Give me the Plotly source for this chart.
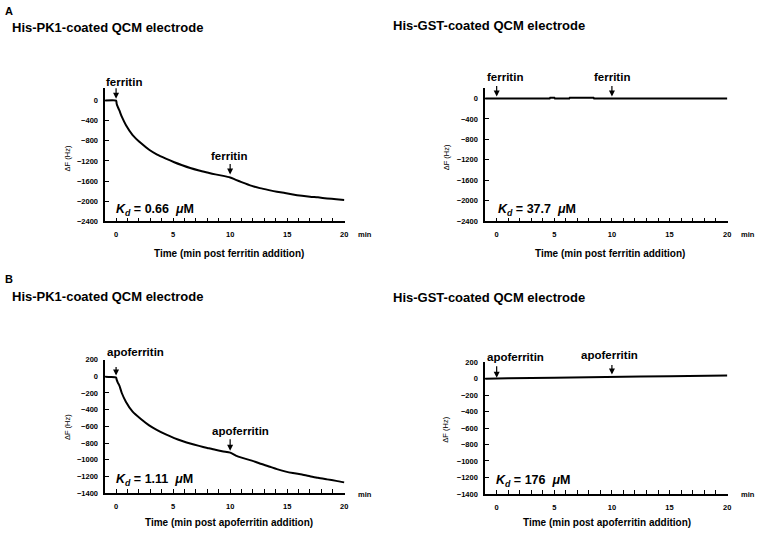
import plotly.graph_objects as go

W, H = 760, 535
FONT = "Liberation Sans, Arial, sans-serif"

# ---- data ----
t_pk1_ferritin = [-1, 0, 0.05, 0.15, 0.29, 0.5, 0.87, 1.45, 2.2, 2.9, 3.6, 4.36, 5.1, 5.8, 6.5,
                  7.27, 8, 8.7, 9.4, 10, 10.5, 11, 11.9, 12.6, 13.4, 14.1, 14.8, 15.5, 16.3,
                  17, 17.7, 18.5, 19.3, 20]
df_pk1_ferritin = [0, 0, -60, -125, -196, -320, -489, -685, -850, -978, -1075, -1154, -1225,
                   -1285, -1340, -1389, -1430, -1467, -1497, -1530, -1575, -1620, -1695, -1740,
                   -1780, -1812, -1838, -1865, -1891, -1910, -1924, -1945, -1962, -1975]

t_gst_ferritin = [-1, 0, 4.6, 4.65, 5.0, 5.05, 6.3, 6.35, 8.4, 8.45, 10, 15, 20]
df_gst_ferritin = [0, 0, 0, 15, 15, 0, 0, 15, 15, 0, 0, 0, 0]

t_pk1_apo = [-1, -0.5, 0, 0.05, 0.15, 0.29, 0.5, 0.87, 1.45, 2.2, 2.9, 3.6, 4.36, 5.1, 5.8, 6.5,
             7.27, 8, 8.7, 9.4, 10, 10.5, 11, 11.9, 12.6, 13.4, 14.1, 14.8, 15.5, 16.3, 17,
             17.7, 18.5, 19.3, 20]
df_pk1_apo = [-5, -8, -15, -40, -75, -112, -200, -307, -424, -515, -588, -645, -697, -740, -775,
              -806, -834, -858, -881, -900, -915, -950, -975, -1010, -1045, -1080, -1112, -1139,
              -1160, -1177, -1197, -1217, -1235, -1253, -1271]

t_gst_apo = [-1, 0, 0.5, 1, 5, 7.5, 10, 12.5, 15, 18, 20]
df_gst_apo = [0, 0, -3, 5, 10, 18, 25, 27, 30, 35, 37]

x_major = [0, 5, 10, 15, 20]
y_ticks_ferritin = [0, -400, -800, -1200, -1600, -2000, -2400]
y_ticks_apo = [200, 0, -200, -400, -600, -800, -1000, -1200, -1400]

panels = [
    dict(t=t_pk1_ferritin, v=df_pk1_ferritin, label="ferritin", kd="0.66",
         title="His-PK1-coated QCM electrode", shape="spline"),
    dict(t=t_gst_ferritin, v=df_gst_ferritin, label="ferritin", kd="37.7",
         title="His-GST-coated QCM electrode", shape="linear"),
    dict(t=t_pk1_apo, v=df_pk1_apo, label="apoferritin", kd="1.11",
         title="His-PK1-coated QCM electrode", shape="spline"),
    dict(t=t_gst_apo, v=df_gst_apo, label="apoferritin", kd="176",
         title="His-GST-coated QCM electrode", shape="linear"),
]

# ---- layout geometry (pixels) ----
def px(p):
    return p / W

def py(p):
    return 1 - p / H

geo = [
    dict(x0=105.8, x1=346.6, xr=[-0.95, 20.05], y0=85.5, y1=221.0, yr=[-2400, 250], yt=y_ticks_ferritin),
    dict(x0=487.7, x1=731.6, xr=[-1.0, 20.05], y0=85.6, y1=221.0, yr=[-2400, 200], yt=y_ticks_ferritin),
    dict(x0=105.8, x1=346.6, xr=[-0.95, 20.05], y0=361.7, y1=497.5, yr=[-1400, 200], yt=y_ticks_apo),
    dict(x0=487.7, x1=731.6, xr=[-1.0, 20.05], y0=364.3, y1=498.3, yr=[-1400, 200], yt=y_ticks_apo),
]

fig = go.Figure()
layout = dict(width=W, height=H, margin=dict(l=0, r=0, t=0, b=0),
              paper_bgcolor="white", plot_bgcolor="white", showlegend=False,
              font=dict(family=FONT, color="black"))

tickfont = dict(family=FONT, size=7.5, color="black", weight="bold")
annotations = []

for i, (p, g) in enumerate(zip(panels, geo), start=1):
    xa = "x" if i == 1 else f"x{i}"
    ya = "y" if i == 1 else f"y{i}"
    fig.add_trace(go.Scatter(x=p["t"], y=p["v"], mode="lines",
                             line=dict(color="black", width=2, shape=p["shape"], smoothing=0.6),
                             xaxis=xa, yaxis=ya, hoverinfo="skip"))
    layout[f"xaxis{'' if i == 1 else i}"] = dict(
        domain=[px(g["x0"]), px(g["x1"])], range=g["xr"], anchor=ya,
        showline=True, linecolor="black", linewidth=1.5, showgrid=False, zeroline=False,
        tickvals=x_major, ticks="inside", ticklen=4, tickwidth=1, tickcolor="black",
        minor=dict(dtick=1, tick0=0, ticks="inside", ticklen=4, tickwidth=1, tickcolor="black",
                   showgrid=False),
        tickfont=tickfont, ticklabelstandoff=5, fixedrange=True)
    layout[f"yaxis{'' if i == 1 else i}"] = dict(
        domain=[py(g["y1"]), py(g["y0"])], range=g["yr"], anchor=xa,
        showline=True, linecolor="black", linewidth=1.5, showgrid=False, zeroline=False,
        tickvals=g["yt"], ticks="inside", ticklen=4, tickwidth=1, tickcolor="black",
        tickfont=tickfont, ticklabelstandoff=4, fixedrange=True)

def txt(x, y, text, size, xanchor="center", bold=True, angle=0):
    annotations.append(dict(xref="paper", yref="paper", x=px(x), y=py(y), text=text,
                            showarrow=False, xanchor=xanchor, yanchor="middle",
                            textangle=angle,
                            font=dict(family=FONT, size=size, color="black",
                                      weight="bold" if bold else "normal")))

def arrow(i, x, y, ay, standoff=2):
    xa = "x" if i == 1 else f"x{i}"
    ya = "y" if i == 1 else f"y{i}"
    annotations.append(dict(xref=xa, yref=ya, x=x, y=y, text="", showarrow=True,
                            ax=0, ay=ay, arrowhead=2, arrowsize=1, arrowwidth=1.2,
                            arrowcolor="black", standoff=standoff))

# panel letters & titles
txt(3, 7, "A", 11, xanchor="left")
txt(3, 280, "B", 11, xanchor="left")
txt(10, 24, panels[0]["title"], 13, xanchor="left")
txt(393, 22, panels[1]["title"], 13, xanchor="left")
txt(10, 297, panels[2]["title"], 13, xanchor="left")
txt(393, 299, panels[3]["title"], 13, xanchor="left")

def val_at(p, t):
    return p["v"][p["t"].index(t)]

txt(125, 79, panels[0]["label"], 11.5)
txt(230, 155, panels[0]["label"], 11.5)
arrow(1, 0, val_at(panels[0], 0), -14, 2)
arrow(1, 10, val_at(panels[0], 10), -15, 3)

txt(508, 74, panels[1]["label"], 11.5)
txt(615, 74, panels[1]["label"], 11.5)
arrow(2, 0, val_at(panels[1], 0), -14, 2)
arrow(2, 10, val_at(panels[1], 10), -14, 2)

txt(136, 354, panels[2]["label"], 11.5)
txt(241.7, 434.3, panels[2]["label"], 11.5)
arrow(3, 0, val_at(panels[2], 0), -12, 2)
arrow(3, 10, val_at(panels[2], 10), -15, 2)

txt(518, 359.3, panels[3]["label"], 11.5)
txt(612.3, 356.7, panels[3]["label"], 11.5)
arrow(4, 0, val_at(panels[3], 0), -14, 1)
arrow(4, 10, val_at(panels[3], 10), -13, 2)

# Kd labels
kd_pos = [(115, 209.3), (498.3, 209.3), (115, 484), (496.7, 485)]
for p, (x, y) in zip(panels, kd_pos):
    txt(x, y, f"<i>K<sub>d</sub></i> = {p['kd']}  <i>μ</i>M", 12.5, xanchor="left")

# axis titles and "min"
xt_pos = [(230, 253.3), (613, 253.3), (230, 527.5), (610, 527.5)]
for p, (x, y) in zip(panels, xt_pos):
    txt(x, y, f"Time (min post {p['label']} addition)", 10)
yt_pos = [(67.7, 156.7), (448.3, 156), (67.7, 430), (448.3, 433)]
for (x, y) in yt_pos:
    txt(x, y, "ΔF (Hz)", 7.5, bold=False, angle=-90)
min_pos = [(367, 234.3), (752, 234.3), (367, 499.3), (752, 499.3)]
for (x, y) in min_pos:
    txt(x, y, "min", 7.5)

layout["annotations"] = annotations
fig.update_layout(**layout)
fig.write_html("out.html", config={"displayModeBar": False},
               post_script="document.body.style.margin='0';document.body.style.overflow='hidden';")
